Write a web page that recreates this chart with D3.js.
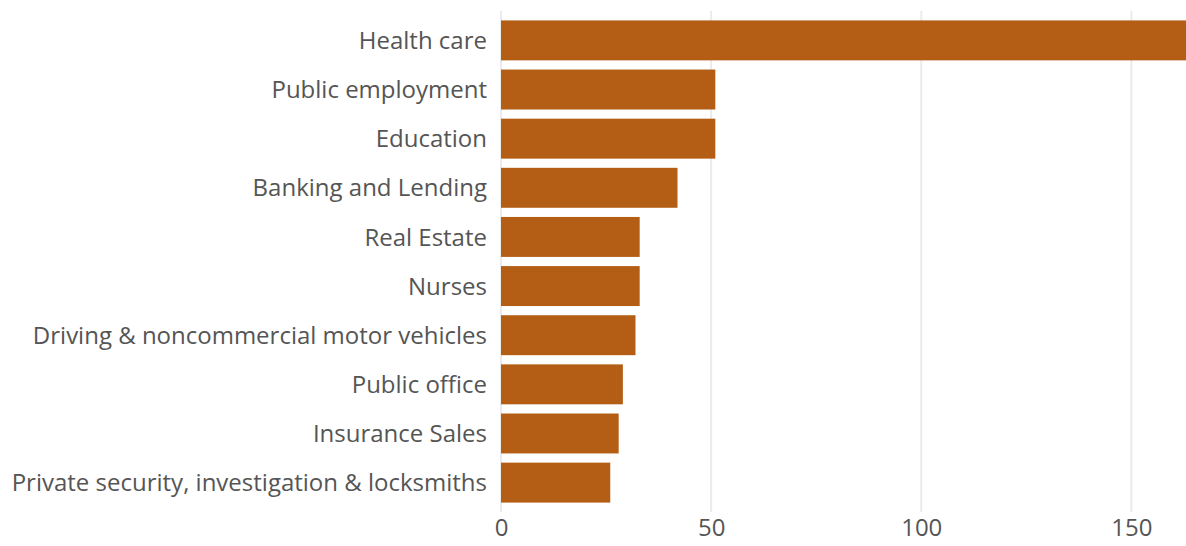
<!DOCTYPE html>
<html>
<head>
<meta charset="utf-8">
<script src="https://cdn.jsdelivr.net/npm/d3@7"></script>
<style>
  html, body { margin: 0; padding: 0; background: #fff; }
  svg text { font-family: "Open Sans", "Noto Sans", sans-serif; fill: #555; }
</style>
</head>
<body>
<svg id="chart" width="1186" height="546"></svg>
<script>
var categories = ["Health care", "Public employment", "Education", "Banking and Lending",
  "Real Estate", "Nurses", "Driving & noncommercial motor vehicles", "Public office",
  "Insurance Sales", "Private security, investigation & locksmiths"];
var values = [163, 51, 51, 42, 33, 33, 32, 29, 28, 26];
var xTicks = [0, 50, 100, 150];

var svg = d3.select("#chart"),
    width = +svg.attr("width"),
    height = +svg.attr("height");

var margin = {top: 11, right: 0, bottom: 34, left: 501};

var x = d3.scaleLinear()
  .domain([0, 163])
  .range([margin.left, width - margin.right]);

var y = d3.scaleBand()
  .domain(categories)
  .range([15.5, 507.5])
  .paddingInner(0.187)
  .paddingOuter(0.1);

// gridlines
svg.append("g")
  .selectAll("line")
  .data(xTicks)
  .enter().append("line")
  .attr("x1", function(d) { return x(d); })
  .attr("x2", function(d) { return x(d); })
  .attr("y1", margin.top)
  .attr("y2", height - margin.bottom)
  .attr("stroke", "#ebebeb")
  .attr("stroke-width", 2);

// bars
svg.append("g")
  .selectAll("rect")
  .data(values)
  .enter().append("rect")
  .attr("x", x(0))
  .attr("y", function(d, i) { return y(categories[i]); })
  .attr("width", function(d) { return x(d) - x(0); })
  .attr("height", y.bandwidth())
  .attr("fill", "#b35e14");

// category labels
var yAxis = svg.append("g")
  .attr("transform", "translate(" + (x(0) - 1) + ",0)")
  .call(d3.axisLeft(y).tickSize(0).tickPadding(13));
yAxis.select(".domain").remove();
yAxis.selectAll("text").style("font-size", "24px").attr("fill", "#555").attr("dy", "0.36em");

// x axis labels
var xAxis = svg.append("g")
  .attr("transform", "translate(0," + (height - margin.bottom) + ")")
  .call(d3.axisBottom(x).tickValues(xTicks).tickSize(0).tickPadding(7));
xAxis.select(".domain").remove();
xAxis.selectAll("text").style("font-size", "24px").attr("fill", "#555");
</script>
</body>
</html>
